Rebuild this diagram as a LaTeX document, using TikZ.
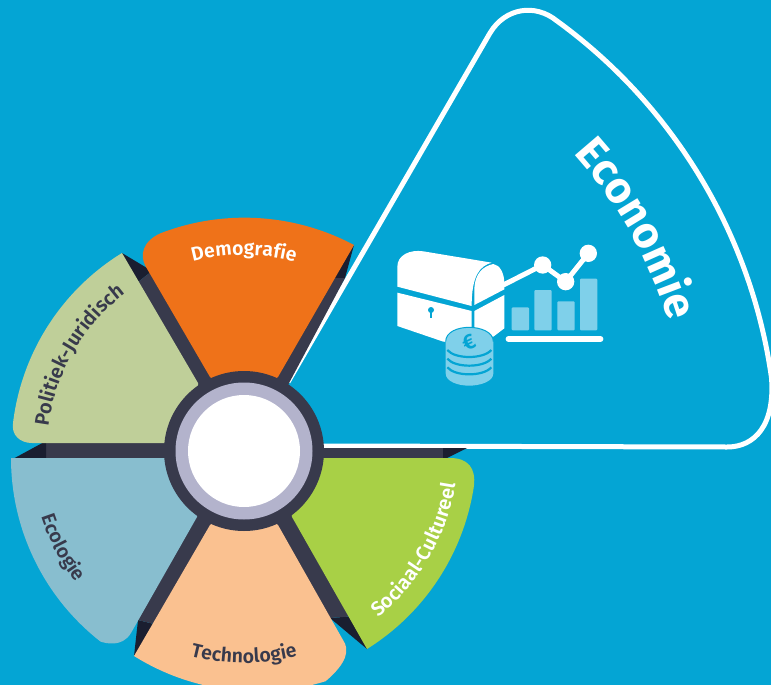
\documentclass[tikz,border=0pt]{standalone}
\usepackage{fontspec}
\usetikzlibrary{decorations.text}
\setmainfont{Fira Sans}
\newfontfamily\lblfont{Fira Sans SemiBold}
\definecolor{bgblue}{HTML}{04A5D4}
\definecolor{orng}{HTML}{EF7219}
\definecolor{sage}{HTML}{BFCF99}
\definecolor{lblue}{HTML}{88BECF}
\definecolor{peach}{HTML}{FAC190}
\definecolor{lime}{HTML}{A8D046}
\definecolor{ink}{HTML}{383A4C}
\definecolor{tipd}{HTML}{1A1E30}
\definecolor{lav}{HTML}{B3B3CC}
\definecolor{barc}{HTML}{7FD0EA}
\newcommand{\curvedlabel}[6]{% text, size, colour, r, start, end
  \path[decorate,decoration={text along path,text align=center,
     text={|\fontsize{#2}{#2}\selectfont\lblfont\color{#3}|#1}}]
     ([shift={(244,-451)}]#5:#4) arc[start angle=#5,end angle=#6,radius=#4];}
\begin{document}
\begin{tikzpicture}[x=1pt,y=1pt]
\useasboundingbox (0,0) rectangle (771,-685);
\fill[bgblue] (0,0) rectangle (771,-685);
\coordinate (hub) at (244,-451);
% Economie outline
\draw[white,line width=5pt,line join=round]
  (288,-382) -- (490,-33) .. controls (505,-8) and (535,-3) .. (557,-21)
  arc[start angle=54,end angle=8,radius=533]
  .. controls (775,-425) and (755,-447) .. (727,-447) -- (320,-446);
% spokes and their dark tips, lying under the sectors
\fill[tipd] (122,-253) -- (152,-271) -- (133,-286) -- cycle;
\fill[ink] (215,-385) -- (152,-271) -- (133,-286) -- (192,-390) -- cycle;
\fill[tipd] (354,-245) -- (332,-278) -- (345,-278) -- cycle;
\fill[ink] (272,-385) -- (332,-278) -- (345,-278) -- (288,-385) -- cycle;
\fill[ink] (46,-441) rectangle (170,-460);
\fill[tipd] (46,-441) -- (46,-460) -- (11,-460) -- cycle;
\fill[ink] (318,-448) rectangle (443,-460);
\fill[tipd] (443,-448) -- (467,-448) -- (443,-460) -- cycle;
\fill[tipd] (134,-656) -- (138,-620) -- (158,-625) -- cycle;
\fill[ink] (190,-512) -- (130,-618) -- (158,-625) -- (216,-522) -- cycle;
\fill[tipd] (367,-649) -- (330,-618) -- (356,-616) -- cycle;
\fill[ink] (272,-520) -- (330,-618) -- (356,-616) -- (298,-510) -- cycle;
% sectors
\fill[orng] (278,-377) -- (354,-245) arc[start angle=62,end angle=111,radius=233.5]
  .. controls (143,-241) and (139,-255) .. (146,-267) -- (210,-377) -- (244,-400) -- cycle;
\fill[sage] (198,-383) -- (122,-253) arc[start angle=121.6,end angle=173,radius=232.5]
  .. controls (11,-435) and (20,-443) .. (32,-443) -- (170,-443) -- (200,-420) -- cycle;
\fill[lblue] (170,-458) -- (11,-458) arc[start angle=180,end angle=232,radius=233]
  .. controls (105,-643) and (122,-648) .. (131,-633) -- (197,-517) -- (200,-490) -- cycle;
\fill[peach] (210,-525) -- (134,-656) arc[start angle=238,end angle=287,radius=233]
  .. controls (347,-663) and (350,-650) .. (343,-640) -- (278,-525) -- (244,-500) -- cycle;
\fill[lime] (292,-517) -- (367,-649) arc[start angle=-58,end angle=-8.5,radius=233]
  .. controls (476,-468) and (468,-458) .. (450,-458) -- (318,-458) -- (285,-480) -- cycle;
% hub
\fill[ink] (hub) circle[radius=80];
\fill[lav] (hub) circle[radius=68.5];
\fill[white] (hub) circle[radius=56];
% labels
\curvedlabel{Demografie}{19.5}{white}{196}{120}{60}
\curvedlabel{Politiek-Juridisch}{20}{ink}{197}{180}{120}
\curvedlabel{Ecologie}{19.5}{ink}{213}{178}{238}
\curvedlabel{Technologie}{19.5}{ink}{212}{-120}{-60}
\curvedlabel{Sociaal-Cultureel}{20}{white}{214}{-60}{0}
\path[decorate,decoration={text along path,text align=center,
   text={|\fontsize{44}{44}\selectfont\bfseries\color{white}|Economie}}]
   ([shift={(244,-451)}]49.5:444) arc[start angle=49.5,end angle=9.5,radius=444];
% icon, in coordinates of a 3x view
\begin{scope}[shift={(380pt,-230pt)},x=0.33333pt,y=-0.33333pt]
  \fill[white] (52,170) -- (52,110) .. controls (52,75) and (90,58) .. (130,64) -- (335,98)
     .. controls (300,108) and (275,135) .. (275,228) -- cycle;
  \fill[white] (283,225) -- (283,175) .. controls (285,130) and (310,108) .. (340,102)
     .. controls (360,105) and (373,130) .. (373,160) -- (373,178) -- cycle;
  \fill[white] (52,188) -- (275,243) -- (275,340) -- (190,335) -- (52,288) -- cycle;
  \fill[white] (283,243) -- (373,195) -- (373,295) -- (340,320) -- (283,320) -- cycle;
  \fill[bgblue] (153,240) circle[radius=9];
  \draw[bgblue,line width=2pt] (153,240) -- (153,265);
  \draw[white,line width=5pt,line join=round] (370,165) -- (488,105) -- (557,155) -- (625,70);
  \fill[white] (488,105) circle[radius=26] (557,155) circle[radius=26] (625,70) circle[radius=26];
  \foreach \xa/\ya in {395/232,463/180,532/214,600/146}
    \fill[barc,rounded corners=1pt] (\xa,\ya) rectangle (\xa+52,301);
  \draw[white,line width=5.5pt,line cap=round] (385,327) -- (662,327);
  % coins
  \fill[barc] (197,335) .. controls (197,305) and (235,292) .. (267,292)
     .. controls (300,292) and (340,305) .. (340,335) -- (340,430)
     .. controls (340,455) and (300,467) .. (267,467)
     .. controls (235,467) and (197,455) .. (197,430) -- cycle;
  \foreach \dy in {0,26,52}
    \draw[bgblue,line width=2.2pt] (202,360+\dy) .. controls (225,388+\dy) and (310,388+\dy) .. (334,360+\dy);
  \draw[bgblue,line width=1pt] (197,335) .. controls (197,305) and (235,292) .. (267,292)
     .. controls (300,292) and (340,305) .. (340,335);
  \node[inner sep=0pt,text=bgblue,rotate=25,font=\fontsize{21}{21}\selectfont\bfseries] (euro) at (266,338) {€};
\end{scope}
\end{tikzpicture}
\end{document}
